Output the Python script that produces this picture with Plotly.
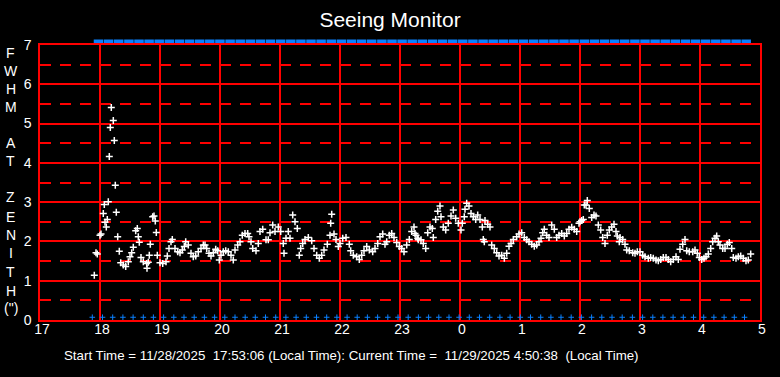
import plotly.graph_objects as go

# Time in minutes after 17:00 (local), FWHM in arcsec
seeing_min = [54.3, 56, 57.3, 60, 61, 63.3, 64.3, 65, 66.3, 67.3, 68.3, 69.3, 70.3, 71.3, 73.3, 74.3, 75.3, 76.3,
              77.7, 79.3, 80.7, 83.3, 85.7, 88.3, 90, 91.7, 93.3, 95.7, 97.3, 98.3, 99.3, 101, 103.3, 106.7, 107,
              108.3, 109.3, 110.3, 112.7, 114, 115.3, 116.3, 117.3, 120, 122.7, 126, 127.3, 129, 131, 132.3, 135,
              137.7, 140, 142.3, 144.3, 145.7, 148.3, 151, 153.3, 155.7, 158.3, 161, 163.3, 165, 166.7, 169, 171,
              173.3, 175.7, 177.7, 179.3, 181, 183.3, 185.7, 188.3, 191, 193.3, 195, 197.7, 200, 202.3, 205, 207.7,
              209, 211, 212.7, 216, 218.3, 220, 222.7, 226, 228.3, 230, 232.7, 235, 238.3, 240.7, 243.3, 244, 246,
              248.3, 250, 252.7, 255, 257.3, 259.3, 260.7, 262.7, 265, 268.3, 271.7, 274, 276.7, 279.3, 281.7, 284,
              287.3, 290, 290.7, 291.7, 294, 296, 298.3, 300, 302.7, 306, 309.3, 310.7, 313.3, 316.7, 319.3, 321.7,
              324, 326.7, 329.3, 332.7, 335, 337.7, 340, 342.7, 345, 346.7, 349.3, 351.7, 354, 356.7, 359.3, 361.7,
              364, 366.7, 369.3, 371.7, 374, 375, 376, 377.7, 378.3, 381, 383.3, 385.7, 387.7, 390, 392.3, 393.3,
              395.7, 397.7, 400, 401, 403.3, 405.7, 408.3, 411, 413.3, 415.7, 418.3, 421, 422.3, 424.3, 425, 426.7,
              429, 431, 433.3, 435.7, 437.7, 440, 442.3, 443.3, 444.3, 445, 447.7, 450, 451.7, 454.3, 456.7, 459,
              461.7, 464.3, 466.7, 469, 471, 473.3, 476.7, 479, 481.7, 484.3, 486.7, 489, 491.7, 494.3, 496.7, 499,
              501, 502.7, 504.3, 506.7, 509, 511.7, 514.3, 516.7, 519, 521.7, 524.3, 526.7, 529, 531.7, 534.3, 536.7,
              539, 540, 541.7, 543.3, 544.3, 546, 547.3, 549.3, 551.7, 554, 556, 558.3, 560.7, 562.7, 565, 567.3,
              569.3, 571.7, 574, 576, 577.3, 579.3, 580, 582.7, 585, 586.7, 589.3, 592.7, 595, 597.3, 600, 602.7,
              605, 608.3, 610.7, 613.3, 616, 618.3, 620.7, 623.3, 626, 628.3, 630.7, 633.3, 636, 638.3, 640, 642.7,
              645, 646.7, 649.3, 652.7, 655, 657.3, 659.3, 661.7, 664, 666, 668.3, 670.7, 672.7, 675, 676.7, 678.3,
              680, 682.7, 685, 687.3, 689.3, 691.7, 693.3, 696, 698.3, 700.7, 703.3, 706, 708.3, 710.7]
seeing_fwhm = [1.14, 1.71, 1.68, 2.16, 2.19, 2.71, 2.94, 2.49, 2.37, 2.56, 3.01, 4.16, 4.90, 5.41, 5.08, 4.57, 3.43, 2.74,
               2.12, 1.75, 1.46, 1.40, 1.36, 1.48, 1.61, 1.71, 1.85, 2.27, 2.33, 2.12, 1.98, 1.59, 1.48, 1.44, 1.32,
               1.47, 1.65, 1.93, 2.63, 2.65, 2.52, 2.23, 1.65, 1.46, 1.44, 1.48, 1.63, 1.82, 1.99, 2.05, 1.82,
               1.74, 1.71, 1.78, 1.87, 1.99, 1.91, 1.70, 1.61, 1.63, 1.74, 1.82, 1.91, 1.91, 1.82, 1.70, 1.63,
               1.71, 1.80, 1.76, 1.53, 1.65, 1.74, 1.76, 1.74, 1.65, 1.53, 1.78, 1.91, 1.99, 2.16, 2.20, 2.20,
               2.12, 1.99, 1.82, 1.76, 1.95, 2.25, 2.31, 2.04, 2.04, 2.22, 2.42, 2.25, 2.37, 2.25, 1.95, 1.70, 2.08,
               2.25, 2.08, 2.67, 2.50, 2.33, 1.65, 1.82, 1.95, 2.05, 2.10, 2.02, 1.82, 1.65, 1.57, 1.65, 1.78,
               1.93, 2.16, 2.46, 2.69, 2.19, 2.05, 1.87, 1.95, 2.08, 2.10, 1.93, 1.76, 1.65, 1.61, 1.54, 1.65,
               1.76, 1.87, 1.78, 1.74, 1.82, 1.95, 2.12, 2.19, 1.93, 1.99, 2.16, 2.20, 2.10, 1.97, 1.87, 1.82,
               1.74, 1.91, 2.05, 2.25, 2.37, 2.20, 2.16, 2.08, 2.04, 2.04, 1.95, 1.82, 2.22, 2.37, 2.33, 2.10,
               2.56, 2.77, 2.90, 2.63, 2.37, 2.29, 2.46, 2.65, 2.80, 2.59, 2.46, 2.29, 2.46, 2.63, 2.82, 2.97,
               2.90, 2.71, 2.63, 2.56, 2.67, 2.56, 2.37, 2.05, 1.99, 2.53, 2.44, 2.37, 1.91, 1.82, 1.71, 1.63,
               1.65, 1.57, 1.70, 1.88, 1.95, 2.05, 2.12, 2.19, 2.22, 2.10, 2.04, 1.99, 1.93, 1.88, 1.91, 1.99,
               2.08, 2.22, 2.31, 2.16, 2.10, 2.42, 2.31, 2.10, 2.16, 2.20, 2.14, 2.20, 2.31, 2.36, 2.31, 2.25,
               2.46, 2.50, 2.53, 2.56, 2.93, 2.93, 3.04, 2.84, 2.61, 2.67, 2.65, 2.42, 2.29, 2.10, 1.95, 2.16,
               2.29, 2.37, 2.44, 2.25, 2.14, 1.99, 2.10, 2.05, 1.93, 1.78, 1.76, 1.71, 1.70, 1.74, 1.74, 1.65,
               1.61, 1.57, 1.59, 1.57, 1.53, 1.51, 1.54, 1.59, 1.59, 1.54, 1.48, 1.54, 1.61, 1.54, 1.80, 1.93,
               2.05, 1.76, 1.74, 1.74, 1.78, 1.70, 1.59, 1.54, 1.57, 1.61, 1.68, 1.82, 1.99, 2.08, 2.14, 1.99,
               1.91, 1.82, 1.82, 1.93, 1.97, 1.82, 1.59, 1.57, 1.61, 1.63, 1.57, 1.51, 1.53, 1.68]

# status markers (minutes after 17:00)
top_status_min = [58.5, 68.6, 78.7, 88.9, 99.0, 109.1, 119.2, 129.3, 139.5, 149.6, 159.7, 169.8, 179.9, 190.1,
                  200.2, 210.3, 220.4, 230.5, 240.7, 250.8, 260.9, 271.0, 281.1, 291.3, 301.4, 311.5, 321.6,
                  331.7, 341.9, 352.0, 362.1, 372.2, 382.3, 392.5, 402.6, 412.7, 422.8, 432.9, 443.1, 453.2,
                  463.3, 473.4, 483.5, 493.7, 503.8, 513.9, 524.0, 534.1, 544.3, 554.4, 564.5, 574.6, 584.7,
                  594.9, 605.0, 615.1, 625.2, 635.3, 645.5, 655.6, 665.7, 675.8, 685.9, 696.1, 706.2]
bottom_status_min = [52.3, 62.5, 72.7, 82.9, 93.1, 103.3, 113.4, 123.6, 133.8, 144.0, 154.2, 164.4, 174.6, 184.8,
                     195.0, 205.2, 215.3, 225.5, 235.7, 245.9, 256.1, 266.3, 276.5, 286.7, 296.9, 307.1, 317.2,
                     327.4, 337.6, 347.8, 358.0, 368.2, 378.4, 388.6, 398.8, 409.0, 419.1, 429.3, 439.5, 449.7,
                     459.9, 470.1, 480.3, 490.5, 500.7, 510.9, 521.0, 531.2, 541.4, 551.6, 561.8, 572.0, 582.2,
                     592.4, 602.6, 612.8, 622.9, 633.1, 643.3, 653.5, 663.7, 673.9, 684.1, 694.3, 704.5]

hour_tick_min = [0, 60, 120, 180, 240, 300, 360, 420, 480, 540, 600, 660, 720]
hour_tick_text = ["17", "18", "19", "20", "21", "22", "23", "0", "1", "2", "3", "4", "5"]

fwhm_tick_vals = [0, 1, 2, 3, 4, 5, 6, 7]
fwhm_half_vals = [0.5, 1.5, 2.5, 3.5, 4.5, 5.5, 6.5]

y_title_letters = ["F", "W", "H", "M", "A", "T", "Z", "E", "N", "I", "T", "H", "(\")"]

FONT = "Liberation Sans, Arial, sans-serif"
RED = "#ff0000"
BLUE = "#0a80ff"

W, H = 780, 377
ML, MT, PW, PH = 40, 45, 720, 275

fig = go.Figure()
fig.add_trace(go.Scatter(
    x=top_status_min, y=[7] * len(top_status_min), mode="markers", cliponaxis=False,
    marker=dict(symbol="line-ew", size=6.8, color=BLUE, angle=180, standoff=3,
                line=dict(color=BLUE, width=5)),
    hoverinfo="skip", showlegend=False))
fig.add_trace(go.Scatter(
    x=bottom_status_min, y=[0.07] * len(bottom_status_min), mode="markers", cliponaxis=False,
    marker=dict(symbol="cross-thin", size=4, color=BLUE, line=dict(color=BLUE, width=1)),
    hoverinfo="skip", showlegend=False))
fig.add_trace(go.Scatter(
    x=seeing_min, y=seeing_fwhm, mode="markers",
    marker=dict(symbol="cross-thin", size=5, color="white", line=dict(color="white", width=1.5)),
    showlegend=False))

fig.update_layout(
    width=W, height=H,
    margin=dict(l=ML, r=W - ML - PW, t=MT, b=H - MT - PH, autoexpand=False),
    paper_bgcolor="black", plot_bgcolor="black",
    font=dict(family=FONT, color="white", size=14),
    title=dict(text="Seeing Monitor", x=390 / W, xanchor="center", y=1 - 20 / H, yanchor="middle",
               font=dict(family=FONT, size=21, color="white")),
    showlegend=False,
)
fig.update_xaxes(
    range=[0, 720], tickmode="array", tickvals=hour_tick_min, ticktext=hour_tick_text,
    showgrid=True, gridcolor=RED, gridwidth=1.5, zeroline=False, automargin=False,
    showline=True, linecolor=RED, linewidth=1.5, mirror=True, ticks="",
    ticklabelshift=2, ticklabelstandoff=-5,
    tickfont=dict(family=FONT, size=14, color="white"),
)
fig.update_yaxes(
    range=[0, 7], tickmode="array", tickvals=fwhm_tick_vals,
    showgrid=True, gridcolor=RED, gridwidth=1.5, zeroline=False, automargin=False,
    showline=True, linecolor=RED, linewidth=1.5, mirror=True, ticks="",
    ticklabelstandoff=4,
    tickfont=dict(family=FONT, size=14, color="white"),
    minor=dict(tickmode="array", tickvals=fwhm_half_vals, showgrid=True, gridcolor=RED,
               gridwidth=1.5, griddash="11px,9px", ticks=""),
)

# vertical y-axis title, one letter per line (page y centres of each letter)
letter_page_y = [53, 71, 89, 107, 143, 161, 197, 217, 235, 253, 272, 291, 307.5]
for ch, yp in zip(y_title_letters, letter_page_y):
    fig.add_annotation(
        xref="paper", yref="paper", x=(11 - ML) / PW, y=(MT + PH - yp) / PH,
        xanchor="center", yanchor="middle", showarrow=False,
        text=ch, font=dict(family=FONT, size=14, color="white"),
    )

fig.add_annotation(
    xref="paper", yref="paper", x=(62 - ML) / PW, y=(MT + PH - 355) / PH,
    xanchor="left", yanchor="middle", showarrow=False,
    text="Start Time = 11/28/2025\u00a0 17:53:06 (Local Time): Current Time =\u00a0 11/29/2025 4:50:38\u00a0 (Local Time)",
    font=dict(family=FONT, size=13.3, color="white"),
)

fig.write_html(
    "out.html",
    config={"displayModeBar": False},
    post_script="document.body.style.margin='0';document.body.style.overflow='hidden';",
)
